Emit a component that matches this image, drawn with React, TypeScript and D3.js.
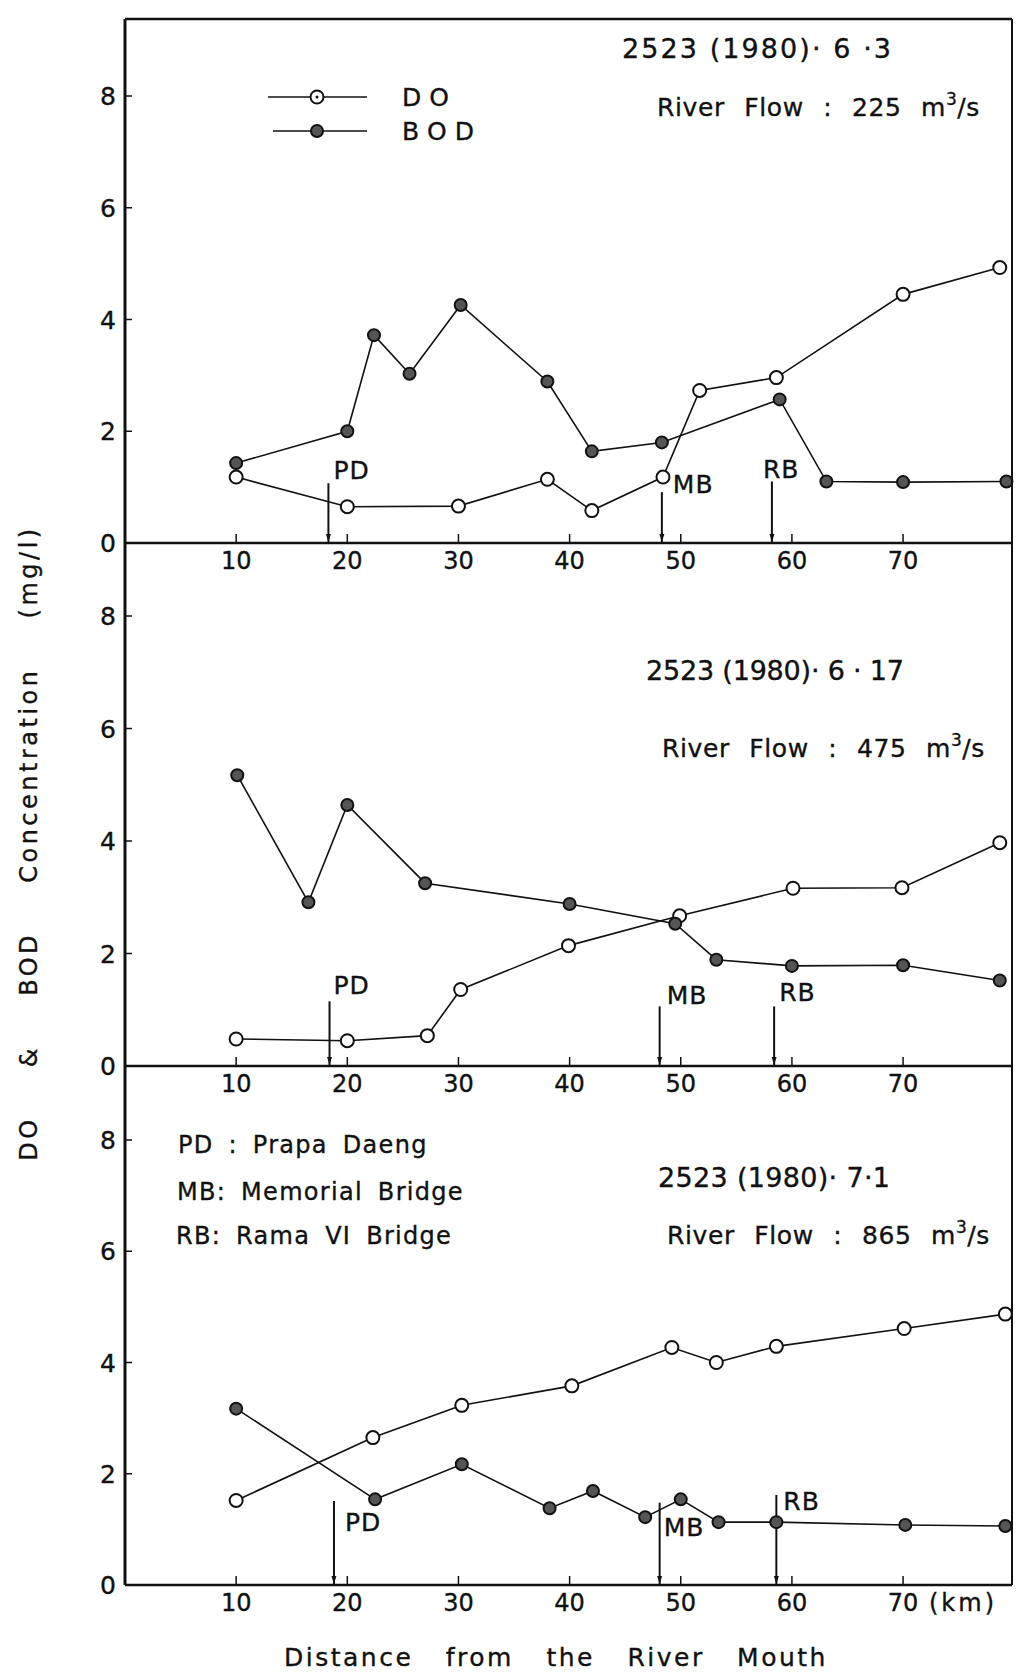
import * as d3 from "d3";
import { useRef, useEffect } from "react";

// panel 1 : 2523 (1980) 6.3
const do1Km = [10, 20, 30, 38, 42, 48.4, 51.7, 58.6, 70, 78.7];
const do1 = [1.18, 0.65, 0.66, 1.14, 0.58, 1.18, 2.73, 2.96, 4.45, 4.93];
const bod1Km = [10, 20, 22.4, 25.6, 30.2, 38, 42, 48.3, 58.9, 63.1, 70, 79.3];
const bod1 = [1.43, 2.0, 3.72, 3.03, 4.26, 2.89, 1.64, 1.8, 2.57, 1.1, 1.09, 1.1];
const site1Km = [18.3, 48.3, 58.2];
const site1Top = [1.07, 0.91, 1.1];

// panel 2 : 2523 (1980) 6.17
const do2Km = [10, 20, 27.2, 30.2, 39.9, 49.9, 60.1, 69.9, 78.7];
const do2 = [0.48, 0.45, 0.54, 1.36, 2.14, 2.67, 3.16, 3.17, 3.97];
const bod2Km = [10.1, 16.5, 20, 27, 40, 49.5, 53.2, 60, 70, 78.7];
const bod2 = [5.17, 2.91, 4.64, 3.25, 2.88, 2.53, 1.89, 1.78, 1.79, 1.52];
const site2Km = [18.4, 48.1, 58.4];
const site2Top = [1.15, 1.06, 1.06];

// panel 3 : 2523 (1980) 7.1
const do3Km = [10, 22.3, 30.3, 40.2, 49.2, 53.2, 58.6, 70.1, 79.2];
const do3 = [1.52, 2.65, 3.23, 3.58, 4.27, 4.0, 4.29, 4.61, 4.87];
const bod3Km = [10, 22.5, 30.3, 38.2, 42.1, 46.8, 50, 53.4, 58.6, 70.2, 79.2];
const bod3 = [3.17, 1.54, 2.17, 1.38, 1.69, 1.22, 1.54, 1.13, 1.13, 1.08, 1.06];
const site3Km = [18.8, 48.1, 58.6];
const site3Top = [1.51, 1.48, 1.62];

const titles = ["2523 (1980)· 6 ·3", "2523 (1980)· 6 · 17", "2523 (1980)· 7·1"];
const flows = ["225", "475", "865"];
const siteNames = ["PD", "MB", "RB"];
const siteLegend = ["PD : Prapa Daeng", "MB: Memorial Bridge", "RB: Rama VI Bridge"];
const yTicks = [0, 2, 4, 6, 8];
const xTicks = [10, 20, 30, 40, 50, 60, 70];

const W = 1016;
const H = 1675;
const FONT = "'DejaVu Sans', 'Liberation Sans', sans-serif";
const INK = "#111";

const App = () => {
    const chartRef = useRef<SVGSVGElement | null>(null);

    useEffect(() => {
        const svg = d3.select(chartRef.current);
        svg.selectAll("*").remove();

        // layout of the three stacked panels
        const left = 125, right = 1012, top = 19;
        const bottoms = [543, 1066, 1585];
        const y8 = [96, 616, 1140];
        const titlePos = [[622, 58, 269], [646, 680, 258], [658, 1187, 232]];
        const flowPos = [[657, 116], [662, 757], [667, 1244]];
        // label offsets of PD / MB / RB relative to the arrow top
        const siteOff = [
            [[5, -4], [11, 1], [-9, -4]],
            [[4, -7], [7, -2], [5, -5]],
            [[11, 30], [4, 33], [7, 15]],
        ];

        const panels = [
            { doKm: do1Km, doV: do1, bodKm: bod1Km, bodV: bod1, sKm: site1Km, sTop: site1Top },
            { doKm: do2Km, doV: do2, bodKm: bod2Km, bodV: bod2, sKm: site2Km, sTop: site2Top },
            { doKm: do3Km, doV: do3, bodKm: bod3Km, bodV: bod3, sKm: site3Km, sTop: site3Top },
        ];

        const x = d3.scaleLinear().domain([0, 79.8]).range([left, right]);

        const g = svg.append("g")
            .attr("font-family", FONT)
            .attr("fill", INK);

        panels.forEach((p, i) => {
            const y = d3.scaleLinear().domain([0, 8]).range([bottoms[i], y8[i]]);
            const pts = (km: number[], v: number[]) => km.map((k, j) => [k, v[j]] as [number, number]);
            const line = d3.line<[number, number]>().x(d => x(d[0])).y(d => y(d[1]));

            // bottom axis of the panel
            g.append("line")
                .attr("x1", left).attr("x2", right)
                .attr("y1", bottoms[i]).attr("y2", bottoms[i])
                .attr("stroke", INK).attr("stroke-width", 2.5);

            // y ticks
            g.selectAll(null).data(yTicks).enter().append("text")
                .attr("x", 116).attr("y", d => y(d) + 9)
                .attr("text-anchor", "end").attr("font-size", 25)
                .text(d => d);
            g.selectAll(null).data(yTicks.filter(d => d > 0)).enter().append("line")
                .attr("x1", left).attr("x2", left + 7)
                .attr("y1", d => y(d)).attr("y2", d => y(d))
                .attr("stroke", INK).attr("stroke-width", 1.5);

            // x ticks
            g.selectAll(null).data(xTicks).enter().append("line")
                .attr("x1", d => x(d)).attr("x2", d => x(d))
                .attr("y1", bottoms[i]).attr("y2", bottoms[i] - 9)
                .attr("stroke", INK).attr("stroke-width", 1.5);
            g.selectAll(null).data(xTicks).enter().append("text")
                .attr("x", d => x(d)).attr("y", bottoms[i] + 26)
                .attr("text-anchor", "middle").attr("font-size", 24)
                .text(d => d);

            // site markers (PD, MB, RB)
            p.sKm.forEach((k, j) => {
                const sx = x(k);
                g.append("line")
                    .attr("x1", sx).attr("x2", sx)
                    .attr("y1", y(p.sTop[j])).attr("y2", bottoms[i])
                    .attr("stroke", INK).attr("stroke-width", 2);
                g.append("path")
                    .attr("d", `M${sx - 2.5},${bottoms[i] - 9}L${sx + 2.5},${bottoms[i] - 9}L${sx},${bottoms[i] - 1}Z`)
                    .attr("fill", INK);
                g.append("text")
                    .attr("x", sx + siteOff[i][j][0])
                    .attr("y", y(p.sTop[j]) + siteOff[i][j][1])
                    .attr("font-size", 25).attr("letter-spacing", 1)
                    .text(siteNames[j]);
            });

            // series lines
            g.append("path").datum(pts(p.bodKm, p.bodV))
                .attr("d", line).attr("fill", "none")
                .attr("stroke", INK).attr("stroke-width", 1.6);
            g.append("path").datum(pts(p.doKm, p.doV))
                .attr("d", line).attr("fill", "none")
                .attr("stroke", INK).attr("stroke-width", 1.6);

            // markers
            g.selectAll(null).data(pts(p.doKm, p.doV)).enter().append("circle")
                .attr("cx", d => x(d[0])).attr("cy", d => y(d[1])).attr("r", 6.5)
                .attr("fill", "#fff").attr("stroke", INK).attr("stroke-width", 2);
            g.selectAll(null).data(pts(p.bodKm, p.bodV)).enter().append("circle")
                .attr("cx", d => x(d[0])).attr("cy", d => y(d[1])).attr("r", 6)
                .attr("fill", "#555").attr("stroke", INK).attr("stroke-width", 2);

            // date + river flow
            g.append("text")
                .attr("x", titlePos[i][0]).attr("y", titlePos[i][1])
                .attr("font-size", 27)
                .attr("textLength", titlePos[i][2]).attr("lengthAdjust", "spacing")
                .text(titles[i]);
            const ft = g.append("text")
                .attr("x", flowPos[i][0]).attr("y", flowPos[i][1])
                .attr("font-size", 25).attr("letter-spacing", 0.6)
                .style("word-spacing", "11px");
            ft.append("tspan").text(`River Flow : ${flows[i]} m`);
            ft.append("tspan").attr("dy", -11).attr("font-size", 17).text("3");
            ft.append("tspan").attr("dy", 11).text("/s");
        });

        // frame: left axis, top and right border
        g.append("line").attr("x1", left).attr("x2", left).attr("y1", top).attr("y2", bottoms[2])
            .attr("stroke", INK).attr("stroke-width", 3);
        g.append("line").attr("x1", left).attr("x2", right).attr("y1", top).attr("y2", top)
            .attr("stroke", INK).attr("stroke-width", 2.5);
        g.append("line").attr("x1", right).attr("x2", right).attr("y1", top).attr("y2", bottoms[2])
            .attr("stroke", INK).attr("stroke-width", 2);

        // legend DO / BOD
        const legY = [97, 131];
        const legX = [[268, 367], [273, 367]];
        ["D O", "B O D"].forEach((name, j) => {
            g.append("line")
                .attr("x1", legX[j][0]).attr("x2", legX[j][1])
                .attr("y1", legY[j]).attr("y2", legY[j])
                .attr("stroke", INK).attr("stroke-width", 1.6);
            g.append("circle")
                .attr("cx", 317).attr("cy", legY[j]).attr("r", j === 0 ? 6.5 : 6)
                .attr("fill", j === 0 ? "#fff" : "#555")
                .attr("stroke", INK).attr("stroke-width", 2);
            g.append("text")
                .attr("x", 402).attr("y", legY[j] + 9)
                .attr("font-size", 25)
                .text(name);
        });
        g.append("circle").attr("cx", 317).attr("cy", legY[0]).attr("r", 1.5).attr("fill", INK);

        // site legend in third panel
        const sl = [[178, 1153], [177, 1200], [176, 1244]];
        siteLegend.forEach((s, j) => {
            g.append("text")
                .attr("x", sl[j][0]).attr("y", sl[j][1])
                .attr("font-size", 24).attr("letter-spacing", 1.3)
                .style("word-spacing", "6px")
                .text(s);
        });

        // (km) unit
        g.append("text")
            .attr("x", 929).attr("y", bottoms[2] + 26)
            .attr("font-size", 24).attr("letter-spacing", 3)
            .text("(km)");

        // axis titles
        g.append("text")
            .attr("x", 556).attr("y", 1666)
            .attr("text-anchor", "middle").attr("font-size", 25)
            .attr("letter-spacing", 2.5)
            .style("word-spacing", "22px")
            .text("Distance from the River Mouth");
        g.append("text")
            .attr("transform", "translate(37,843) rotate(-90)")
            .attr("text-anchor", "middle").attr("font-size", 24)
            .attr("letter-spacing", 3.5)
            .style("word-spacing", "38px")
            .text("DO & BOD Concentration (mg/l)");

        // the printed lettering is a little heavier than the plain font
        g.selectAll("text").attr("stroke", INK).attr("stroke-width", 0.35);
    }, []);

    return (
        <svg ref={chartRef} width={W} height={H}
             style={{ position: "absolute", left: 0, top: 0, background: "#fff" }} />
    );
};

export default App;
